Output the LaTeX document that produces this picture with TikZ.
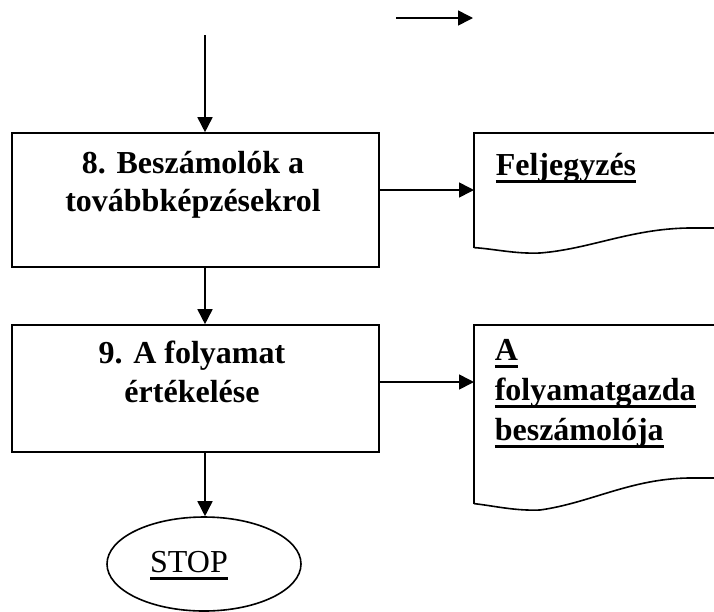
\documentclass[tikz,border=0pt]{standalone}
\usepackage{fontspec}
\setmainfont{Liberation Serif}
\usetikzlibrary{arrows.meta,shapes.geometric}

% thick underline placed below the baseline
\newcommand\ulbar[1]{\setbox0\hbox{#1}\rlap{\rule[-8pt]{\wd0}{2.6pt}}\box0}

\tikzset{
  flow/.style={-{Triangle[length=15pt,width=15pt]}},
  stepbox/.style={draw, rectangle, inner sep=0pt, minimum width=367pt},
  boxtext/.style={anchor=base, inner sep=0pt, font=\fontsize{32}{38}\selectfont\bfseries},
  doctext/.style={anchor=base west, inner sep=0pt, font=\fontsize{32}{38}\selectfont\bfseries},
  docarea/.style={rectangle, inner sep=0pt, anchor=north west},
  terminal/.style={draw, ellipse, inner sep=0pt},
}

\begin{document}
\begin{tikzpicture}[x=1pt,y=-1pt,line width=1.6pt]
\useasboundingbox (0,0) rectangle (714,611);
\clip (0,0) rectangle (714,611);

% process boxes
\node[stepbox, minimum height=134pt] (box8) at (195.5,200) {};
\node[stepbox, minimum height=127pt] (box9) at (195.5,388.5) {};

\node[boxtext] (t8a) at (193,173) {8. Beszámolók a};
\node[boxtext] (t8b) at (193,211) {továbbképzésekrol};
\node[boxtext] (t9a) at (192,363) {9. A folyamat};
\node[boxtext] (t9b) at (192,402) {értékelése};

% document areas (outline drawn below)
\node[docarea, minimum width=260pt, minimum height=113pt] (doc1) at (474,133) {};
\node[docarea, minimum width=260pt, minimum height=177pt] (doc2) at (474,325) {};

\draw (doc1.south west) -- (doc1.north west) -- (740,133);
\draw (doc1.south west) .. controls (495,249) and (515,254) .. (540,253)
      .. controls (590,249) and (630,229) .. (688,228) -- (740,228);

\draw (doc2.south west) -- (doc2.north west) -- (740,325);
\draw (doc2.south west) .. controls (495,506) and (515,511) .. (540,510)
      .. controls (590,503) and (630,479) .. (688,478) -- (740,478);

\node[doctext] (d1) at (495,175) {\ulbar{Feljegyzés}};
\node[doctext] (d2a) at (494,360) {\ulbar{A}};
\node[doctext] (d2b) at (494,400) {\ulbar{folyamatgazda}};
\node[doctext] (d2c) at (494,440) {\ulbar{beszámolója}};

% terminal
\node[terminal, minimum width=194pt, minimum height=94pt] (stop) at (204,564) {};
\node[anchor=base, inner sep=0pt, font=\fontsize{32}{38}\selectfont] (stoptext) at (189,572) {\ulbar{STOP}};

% connectors
\coordinate (topa) at (396,18);
\coordinate (topb) at (473,18);
\coordinate (in8) at (205,35);
\draw[flow] (topa) -- (topb);
\draw[flow] (in8) -- (in8 |- box8.north);
\draw[flow] ([yshift=10pt]box8.east) -- ([yshift=10pt]box8.east -| doc1.west);
\draw[flow] ([yshift=6.5pt]box9.east) -- ([yshift=6.5pt]box9.east -| doc2.west);
\draw[flow] ([xshift=9.5pt]box8.south) -- ([xshift=9.5pt]box9.north);
\draw[flow] ([xshift=9.5pt]box9.south) -- ([xshift=9.5pt]box9.south |- stop.north);
\end{tikzpicture}
\end{document}
